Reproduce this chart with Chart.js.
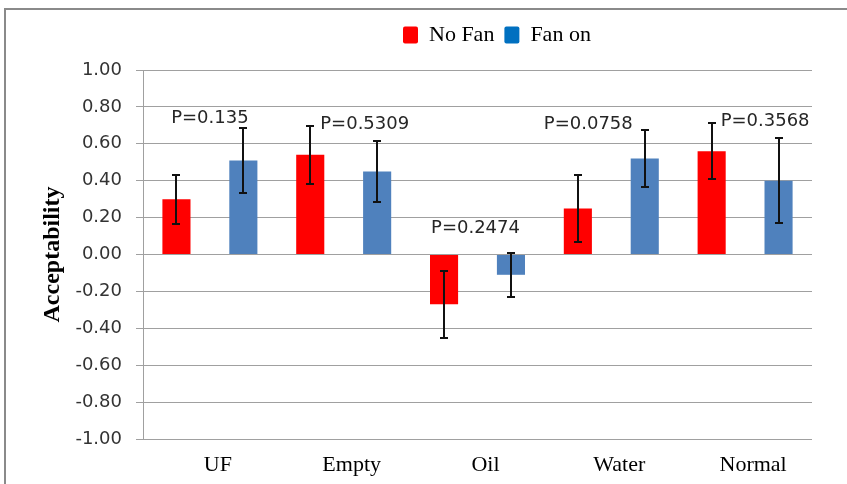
<!DOCTYPE html>
<html>
<head>
<meta charset="utf-8">
<script src="https://cdn.jsdelivr.net/npm/chart.js@4.4.1/dist/chart.umd.min.js"></script>
<style>
  html, body { margin:0; padding:0; background:#fff; overflow:hidden; }
  #wrap { position:relative; width:847px; height:484px; }
  #frame { position:absolute; left:4px; top:8px; width:900px; height:600px;
           border-left:2px solid #8a8a8a; border-top:2px solid #8a8a8a; }
  #chart { position:absolute; left:0; top:0; }
</style>
</head>
<body>
<div id="wrap">
  <div id="frame"></div>
  <canvas id="chart" width="847" height="484"></canvas>
</div>
<script>
// ---- data ----
const categories = ['UF', 'Empty', 'Oil', 'Water', 'Normal'];
const noFan      = [0.30, 0.54, -0.27, 0.25, 0.56];
const noFanErr   = [0.132, 0.157, 0.183, 0.183, 0.152];
const fanOn      = [0.51, 0.45, -0.11, 0.52, 0.40];
const fanOnErr   = [0.175, 0.165, 0.118, 0.153, 0.231];
const pValues    = ['P=0.135', 'P=0.5309', 'P=0.2474', 'P=0.0758', 'P=0.3568'];
const yMin = -1, yMax = 1, yStep = 0.2;

// ---- look ----
const RED = '#ff0000', BLUE = '#4f81bd', LEGEND_BLUE = '#0070c0';
const GRID = '#a0a0a0';
const SERIF = '"Liberation Serif", "Times New Roman", serif';
const SANS  = '"DejaVu Sans", Verdana, sans-serif';

// where each P label sits: px shift from the category centre, axis value for its middle
const pLabelPlace = [
  { dx: 0,   v: 0.736 },
  { dx: 21,  v: 0.706 },
  { dx: -2,  v: 0.143 },
  { dx: -23, v: 0.708 },
  { dx: 20,  v: 0.722 }
];
const legendPlace = { left: 393, top: 14 };

// legend box sits above the plot, not centred on it
const placeLegend = {
  id: 'placeLegend',
  afterLayout(chart) {
    const lg = chart.legend;
    if (!lg) return;
    const w = lg.right - lg.left, h = lg.bottom - lg.top;
    lg.left = legendPlace.left; lg.right = lg.left + w;
    lg.top = legendPlace.top;   lg.bottom = lg.top + h;
  }
};

// +/- error whiskers with short caps
const errorBars = {
  id: 'errorBars',
  afterDatasetsDraw(chart) {
    const { ctx, scales: { y } } = chart;
    ctx.save();
    ctx.strokeStyle = '#111';
    ctx.lineWidth = 2;
    chart.data.datasets.forEach((ds, di) => {
      chart.getDatasetMeta(di).data.forEach((bar, i) => {
        const v = ds.data[i], e = ds.errors[i];
        const top = Math.round(y.getPixelForValue(v + e));
        const bot = Math.round(y.getPixelForValue(v - e));
        const x = Math.round(bar.x);
        ctx.beginPath();
        ctx.moveTo(x, top); ctx.lineTo(x, bot);
        ctx.moveTo(x - 4, top); ctx.lineTo(x + 4, top);
        ctx.moveTo(x - 4, bot); ctx.lineTo(x + 4, bot);
        ctx.stroke();
      });
    });
    ctx.restore();
  }
};

// significance text over each pair
const pLabels = {
  id: 'pLabels',
  afterDraw(chart) {
    const { ctx, scales: { x, y } } = chart;
    ctx.save();
    ctx.font = '18px ' + SANS;
    ctx.fillStyle = '#262626';
    ctx.textAlign = 'center';
    ctx.textBaseline = 'middle';
    pValues.forEach((t, i) => {
      const p = pLabelPlace[i];
      ctx.fillText(t, x.getPixelForValue(i) + p.dx, y.getPixelForValue(p.v));
    });
    ctx.restore();
  }
};

new Chart(document.getElementById('chart'), {
  type: 'bar',
  data: {
    labels: categories,
    datasets: [
      { label: 'No Fan', data: noFan, errors: noFanErr, backgroundColor: RED },
      { label: 'Fan on', data: fanOn, errors: fanOnErr, backgroundColor: BLUE }
    ]
  },
  options: {
    responsive: false,
    animation: false,
    categoryPercentage: 1.0,
    barPercentage: 0.42,
    layout: { padding: { top: 28, left: 0, right: 35, bottom: 0 } },
    plugins: {
      tooltip: { enabled: false },
      legend: {
        position: 'top',
        align: 'start',
        labels: {
          color: '#000',
          font: { family: SERIF, size: 22 },
          boxWidth: 15,
          boxHeight: 17,
          padding: 10,
          useBorderRadius: true,
          borderRadius: 2,
          generateLabels(chart) {
            const items = Chart.defaults.plugins.legend.labels.generateLabels(chart);
            const fills = [RED, LEGEND_BLUE];
            items.forEach((it, i) => { it.fillStyle = fills[i]; it.strokeStyle = fills[i]; it.lineWidth = 0; });
            return items;
          }
        }
      }
    },
    scales: {
      x: {
        grid: { display: false, drawTicks: false },
        border: { display: false },
        ticks: { color: '#000', font: { family: SERIF, size: 22 }, padding: 13, labelOffset: 8, maxRotation: 0 },
        afterFit(s) { s.height = 45; }
      },
      y: {
        min: yMin, max: yMax,
        grid: { color: GRID, tickLength: 7, drawTicks: true },
        border: { display: true, color: GRID },
        ticks: {
          stepSize: yStep,
          color: '#333',
          padding: 14,
          font: { family: SANS, size: 18 },
          callback: v => (Math.abs(v) < 1e-9 ? 0 : v).toFixed(2)
        },
        title: {
          display: true,
          text: 'Acceptability',
          color: '#000',
          font: { family: SERIF, size: 24, weight: 'bold' },
          padding: { top: 38, bottom: 0 }
        },
        afterFit(s) { s.width = 143; }
      }
    }
  },
  plugins: [placeLegend, errorBars, pLabels]
});
</script>
</body>
</html>
